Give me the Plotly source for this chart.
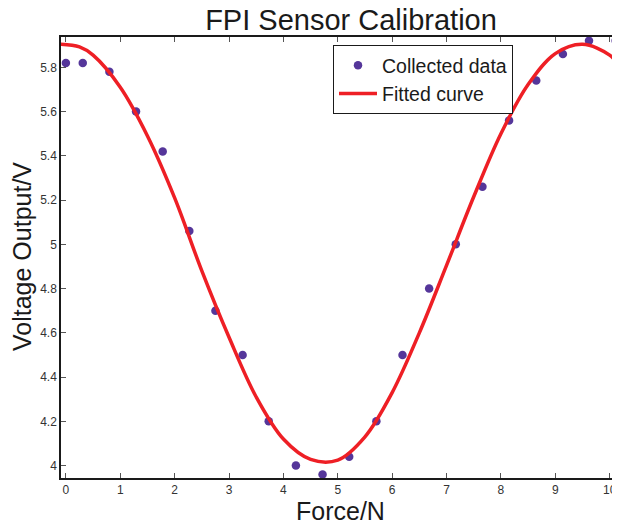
import plotly.graph_objects as go

# Collected data
force_n = [0.0, 0.31, 0.80, 1.29, 1.78, 2.27, 2.75, 3.25, 3.73, 4.23, 4.72,
           5.21, 5.71, 6.19, 6.68, 7.17, 7.66, 8.15, 8.65, 9.14, 9.62, 10.11]
voltage_v = [5.82, 5.82, 5.78, 5.60, 5.42, 5.06, 4.70, 4.50, 4.20, 4.00, 3.96,
             4.04, 4.20, 4.50, 4.80, 5.00, 5.26, 5.56, 5.74, 5.86, 5.92, 5.92]

# Fitted curve
fit_force = [-0.09, 0.25, 0.5, 1.0, 1.5, 2.0, 2.5, 3.0, 3.5, 4.0, 4.5,
             5.0, 5.5, 6.0, 6.5, 7.0, 7.5, 8.0, 8.5, 9.0, 9.5, 10.0, 10.19]
fit_voltage = [5.904, 5.892, 5.855, 5.71, 5.49, 5.21, 4.88, 4.58, 4.31, 4.12, 4.028,
               4.025, 4.13, 4.33, 4.60, 4.905, 5.215, 5.50, 5.722, 5.862, 5.904, 5.855, 5.80]

x_ticks = [0, 1, 2, 3, 4, 5, 6, 7, 8, 9, 10]
y_ticks = [4.0, 4.2, 4.4, 4.6, 4.8, 5.0, 5.2, 5.4, 5.6, 5.8]

# page has an 8px body margin; figure coordinates = page coordinates - 8
OFF = 8
W, H = 620 - OFF, 525 - OFF
ML, MT = 61 - OFF, 37 - OFF
PLOT_BOTTOM = 478 - OFF
MR, MB = 0, H - PLOT_BOTTOM
PW, PH = W - ML - MR, H - MT - MB
FONT = "Liberation Sans, Arial, sans-serif"


def px_x(p):
    return (p - OFF - ML) / PW


def px_y(p):
    return (PLOT_BOTTOM - (p - OFF)) / PH


fig = go.Figure()
fig.add_trace(go.Scatter(
    x=force_n, y=voltage_v, mode="markers", name="Collected data",
    marker=dict(color="#55369a", size=8.5, line=dict(width=0)),
))
fig.add_trace(go.Scatter(
    x=fit_force, y=fit_voltage, mode="lines", name="Fitted curve",
    line=dict(color="#ee1f25", width=3.5, shape="spline", smoothing=1.0),
))

axis_common = dict(
    showgrid=False, zeroline=False, showline=True, linecolor="#1a1a1a",
    linewidth=1.5, mirror="allticks", ticks="inside", ticklen=5,
    tickcolor="#555555", tickwidth=1, automargin=False,
    tickfont=dict(family=FONT, size=12, color="#333333"),
)

fig.update_layout(
    width=W, height=H,
    margin=dict(l=ML, r=MR, t=MT, b=MB, pad=0, autoexpand=False),
    paper_bgcolor="white", plot_bgcolor="white",
    showlegend=True,
    legend=dict(
        x=px_x(333), y=px_y(45), xanchor="left", yanchor="top",
        bgcolor="white", bordercolor="#1a1a1a", borderwidth=1,
        font=dict(family=FONT, size=19.5, color="#1a1a1a"),
        tracegroupgap=0, itemwidth=38,
    ),
    xaxis=dict(range=[-0.09, 10.19], tickvals=x_ticks, **axis_common),
    yaxis=dict(range=[3.944, 5.937], tickvals=y_ticks, **axis_common),
    title=dict(
        text="FPI Sensor Calibration",
        x=(351 - OFF) / W, xanchor="center", xref="container",
        y=1 - (20 - OFF) / H, yanchor="middle", yref="container",
        font=dict(family=FONT, size=29, color="#1a1a1a"),
    ),
    annotations=[
        dict(text="Force/N", xref="paper", yref="paper",
             x=px_x(340), y=px_y(511),
             xanchor="center", yanchor="middle", showarrow=False,
             font=dict(family=FONT, size=25, color="#1a1a1a")),
        dict(text="Voltage Output/V", xref="paper", yref="paper",
             x=px_x(22), y=px_y(257), textangle=-90,
             xanchor="center", yanchor="middle", showarrow=False,
             font=dict(family=FONT, size=25, color="#1a1a1a")),
    ],
)

fig.write_html("out.html")
